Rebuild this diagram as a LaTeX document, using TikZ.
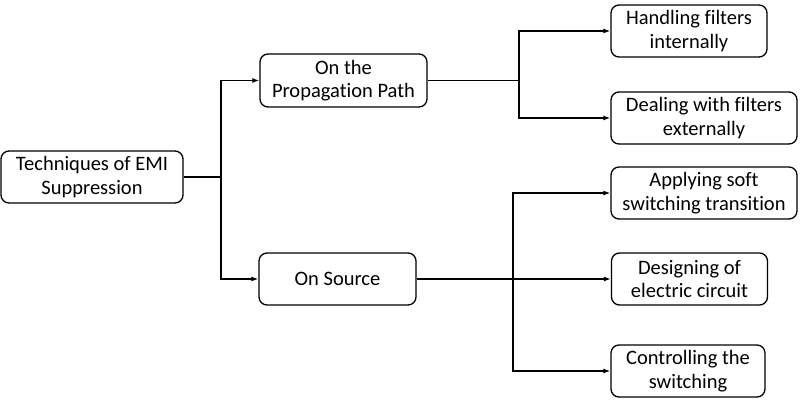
\documentclass[tikz,border=0pt]{standalone}
\usepackage{fontspec}
\setmainfont{Carlito}[Ligatures=NoCommon]
\usetikzlibrary{arrows.meta}
\begin{document}
\begin{tikzpicture}[x=1pt,y=-1pt,
  box/.style={draw,line width=1.3pt,rounded corners=8pt,align=center,inner sep=0pt,
    font=\fontsize{20.5}{23.5}\selectfont},
  conn/.style={line width=1.3pt},
  arr/.style={conn,-{Latex[length=7pt,width=5pt]}}]
\useasboundingbox (0,0) rectangle (800,409);
\node[box,minimum width=182pt,minimum height=52pt] (root) at (92,177) {Techniques of EMI\\Suppression};
\node[box,minimum width=167pt,minimum height=53pt] (path) at (343.5,80.5) {On the\\Propagation Path};
\node[box,minimum width=157pt,minimum height=52pt] (src) at (337.5,279) {On Source};
\node[box,minimum width=156pt,minimum height=52pt] (h) at (689,31) {Handling filters\\internally};
\node[box,minimum width=186pt,minimum height=52pt] (d) at (704,118) {Dealing with filters\\externally};
\node[box,minimum width=186pt,minimum height=52pt] (a) at (704,193) {Applying soft\\switching transition};
\node[box,minimum width=156pt,minimum height=52pt] (des) at (689.5,279) {Designing of\\electric circuit};
\node[box,minimum width=154pt,minimum height=52pt] (c) at (688,371) {Controlling the\\switching};
\coordinate (j1) at (221,177);
\coordinate (j2) at (519,80.5);
\coordinate (j3) at (513,279);
\draw[conn] (root.east) -- (j1);
\draw[arr] (j1) |- (path.west);
\draw[arr] (j1) |- (src.west);
\draw[conn] (path.east) -- (j2);
\draw[arr] (j2) |- (h.west);
\draw[arr] (j2) |- (d.west);
\draw[conn] (src.east) -- (j3);
\draw[arr] (j3) |- (a.west);
\draw[arr] (j3) -- (j3 -| des.west);
\draw[arr] (j3) |- (c.west);
\end{tikzpicture}
\end{document}
